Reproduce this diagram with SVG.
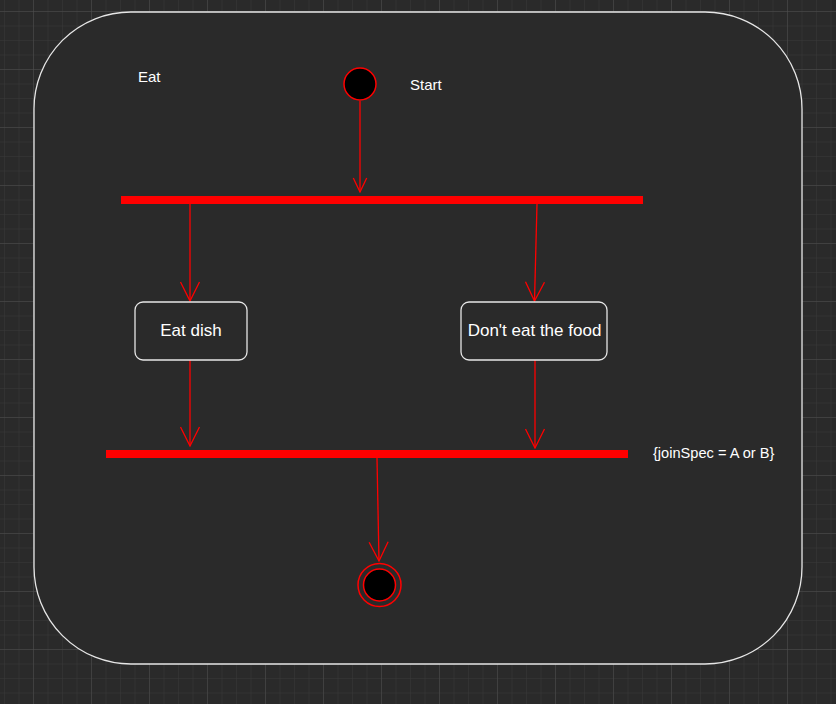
<svg xmlns="http://www.w3.org/2000/svg" width="836" height="704" viewBox="0 0 836 704">
<style>
.lbl{font-family:"Liberation Sans",Arial,sans-serif;fill:#ffffff;}
.edge{stroke:#ff0000;stroke-width:1.3;fill:none;}
.box{fill:#2a2a2a;stroke:#e6e6e6;stroke-width:1.3;}
.bar{fill:#ff0000;}
</style>
<defs>
<pattern id="minor" patternUnits="userSpaceOnUse" x="33" y="11" width="14.5" height="14.5">
<path d="M0,0 H14.5 M0,0 V14.5" stroke="#3a3a3a" stroke-width="1" fill="none"/>
</pattern>
<pattern id="major" patternUnits="userSpaceOnUse" x="33" y="11" width="58" height="58">
<path d="M0,0 H58 M0,0 V58" stroke="#4e4e4e" stroke-width="1" fill="none"/>
</pattern>
<marker id="arrS" viewBox="-15 -8 16 16" refX="0" refY="0" markerWidth="16" markerHeight="16" markerUnits="userSpaceOnUse" orient="auto">
<path d="M-14,-6.7 L0,0 L-14,6.7" stroke="#ff0000" stroke-width="1.3" fill="none"/>
</marker>
<marker id="arrL" viewBox="-21 -11 22 22" refX="0" refY="0" markerWidth="22" markerHeight="22" markerUnits="userSpaceOnUse" orient="auto">
<path d="M-19,-9.5 L0,0 L-19,9.5" stroke="#ff0000" stroke-width="1.3" fill="none"/>
</marker>
</defs>
<rect x="0" y="0" width="836" height="704" fill="#2a2a2a"/>
<rect x="0" y="0" width="836" height="704" fill="url(#minor)"/>
<rect x="0" y="0" width="836" height="704" fill="url(#major)"/>

<g id="eat">
<rect x="34" y="12" width="768" height="652" rx="97" ry="97" class="box" stroke-width="1.5"/>
<text x="138" y="82" class="lbl" font-size="15">Eat</text>
</g>

<g id="connectors">
<line x1="360" y1="101" x2="360" y2="192" class="edge" marker-end="url(#arrS)"/>
<line x1="190" y1="204" x2="190" y2="301" class="edge" marker-end="url(#arrL)"/>
<line x1="537" y1="204" x2="534.5" y2="301" class="edge" marker-end="url(#arrL)"/>
<line x1="190" y1="360" x2="190" y2="446" class="edge" marker-end="url(#arrL)"/>
<line x1="535" y1="360" x2="535" y2="448" class="edge" marker-end="url(#arrL)"/>
<line x1="377" y1="458" x2="379" y2="561" class="edge" marker-end="url(#arrL)"/>
</g>

<g id="start">
<circle cx="360" cy="84" r="16" fill="#000000" stroke="#ff0000" stroke-width="1.5"/>
<text x="410" y="90" class="lbl" font-size="15">Start</text>
</g>

<g id="fork">
<rect x="121" y="196" width="522" height="8" class="bar"/>
</g>

<g id="eatDish">
<rect x="135" y="302" width="112" height="58" rx="8" ry="8" class="box"/>
<text x="191" y="336" class="lbl" font-size="17" text-anchor="middle">Eat dish</text>
</g>

<g id="dontEat">
<rect x="461" y="302" width="146" height="58" rx="8" ry="8" class="box"/>
<text x="534.5" y="336" class="lbl" font-size="17" text-anchor="middle">Don't eat the food</text>
</g>

<g id="join">
<rect x="106" y="450" width="522" height="8" class="bar"/>
<text x="653" y="458" class="lbl" font-size="14.6">{joinSpec = A or B}</text>
</g>

<g id="final">
<circle cx="379.5" cy="585" r="21.5" fill="none" stroke="#ff0000" stroke-width="1.5"/>
<circle cx="379.5" cy="585" r="16" fill="#000000" stroke="#ff0000" stroke-width="1.5"/>
</g>
</svg>
